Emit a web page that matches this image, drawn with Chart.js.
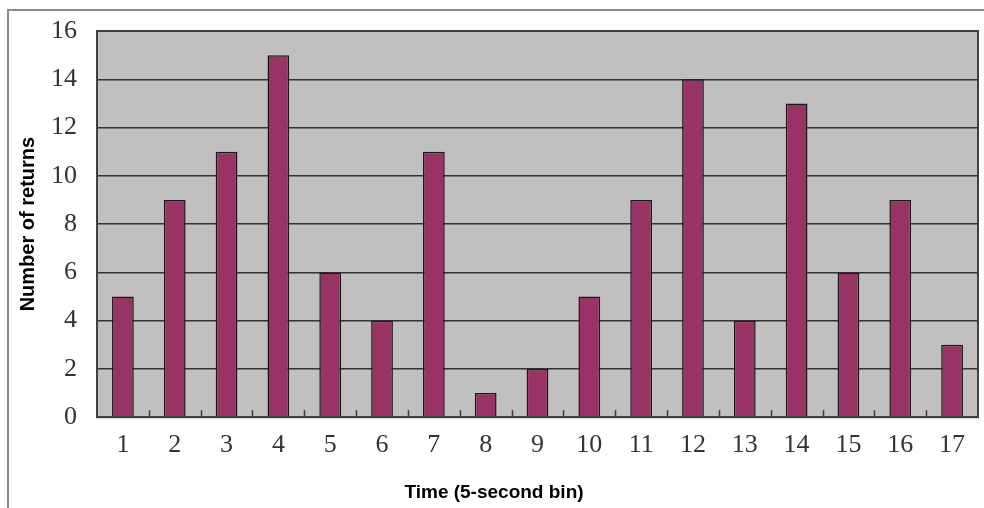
<!DOCTYPE html>
<html>
<head>
<meta charset="utf-8">
<script src="https://cdn.jsdelivr.net/npm/chart.js@4"></script>
<style>
  html, body { margin: 0; padding: 0; background: #fff; }
  #wrap { position: relative; width: 984px; height: 508px; overflow: hidden; }
  #frame { position: absolute; left: 7px; top: 9px; width: 1000px; height: 520px;
           border-top: 2px solid #8a8a8a; border-left: 2px solid #8a8a8a; }
  canvas { position: absolute; left: 0; top: 0; }
</style>
</head>
<body>
<div id="wrap">
  <div id="frame"></div>
  <canvas id="chart" width="984" height="508"></canvas>
</div>
<script>
// Data
const bins = ['1','2','3','4','5','6','7','8','9','10','11','12','13','14','15','16','17'];
const returns = [5, 9, 11, 15, 6, 4, 11, 1, 2, 5, 9, 14, 4, 13, 6, 9, 3];
const yTicks = [0, 2, 4, 6, 8, 10, 12, 14, 16];

const serif = '"Liberation Serif", "DejaVu Serif", serif';
const sans = '"Liberation Sans", Arial, sans-serif';

// plot background + frame + small category ticks
const plotDecor = {
    id: 'plotDecor',
    beforeDraw: (chart) => {
        const { ctx, chartArea: a } = chart;
        ctx.save();
        ctx.fillStyle = '#c0c0c0';
        ctx.fillRect(a.left, a.top, a.right - a.left, a.bottom - a.top);
        ctx.restore();
    },
    afterDraw: (chart) => {
        const { ctx, chartArea: a } = chart;
        const x = chart.scales.x;
        ctx.save();
        ctx.strokeStyle = '#3a3a3a';
        ctx.lineWidth = 1.5;
        for (let i = 0; i < bins.length - 1; i++) {
            const px = Math.round((x.getPixelForTick(i) + x.getPixelForTick(i + 1)) / 2) + 0.5;
            ctx.beginPath();
            ctx.moveTo(px, a.bottom);
            ctx.lineTo(px, a.bottom - 7);
            ctx.stroke();
        }
        ctx.strokeStyle = '#404040';
        ctx.lineWidth = 2;
        ctx.strokeRect(a.left, a.top, a.right - a.left, a.bottom - a.top);
        ctx.restore();
    }
};

const ctx = document.getElementById('chart').getContext('2d');
new Chart(ctx, {
    type: 'bar',
    data: {
        labels: bins,
        datasets: [{
            data: returns,
            backgroundColor: '#993366',
            borderColor: '#1a1a1a',
            borderWidth: 1.5,
            categoryPercentage: 1,
            barPercentage: 0.42
        }]
    },
    options: {
        responsive: false,
        animation: false,
        layout: { padding: { top: 31, right: 6, left: 10, bottom: 0 } },
        plugins: {
            legend: { display: false },
            tooltip: { enabled: false },
            title: {
                display: true, position: 'bottom', text: 'Time (5-second bin)', color: '#000',
                font: { family: sans, size: 19, weight: 'bold' },
                padding: { top: 0, bottom: 4 }
            }
        },
        scales: {
            x: {
                grid: { display: false },
                border: { display: false },
                ticks: { color: '#333', font: { family: serif, size: 26 }, padding: 4 },
                afterFit: (s) => { s.height = 64; s.paddingLeft = 0; s.paddingRight = 0; }
            },
            y: {
                min: 0, max: 16,
                afterBuildTicks: (s) => { s.ticks = yTicks.map(v => ({ value: v })); },
                grid: { color: '#333', lineWidth: 1.5, drawTicks: false },
                border: { display: false },
                ticks: { color: '#333', font: { family: serif, size: 26 }, padding: 20 },
                title: {
                    display: true, text: 'Number of returns', color: '#000',
                    font: { family: sans, size: 20, weight: 'bold' },
                    padding: { top: 6, bottom: 0 }
                },
                afterFit: (s) => { s.width = 87; s.paddingTop = 0; s.paddingBottom = 0; }
            }
        }
    },
    plugins: [plotDecor]
});
</script>
</body>
</html>
